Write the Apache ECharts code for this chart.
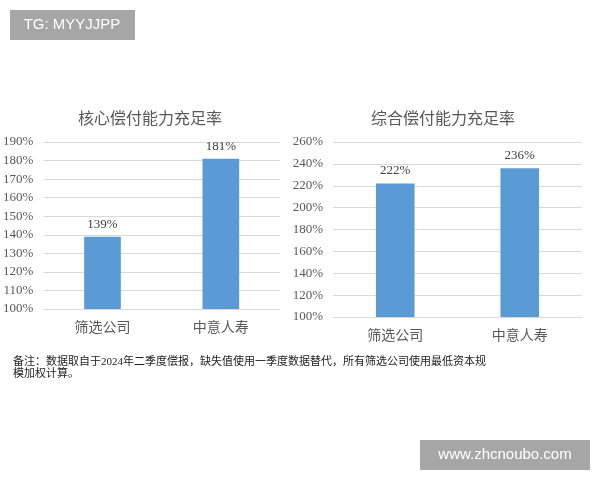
<!DOCTYPE html>
<html><head><meta charset="utf-8">
<script src="https://cdn.jsdelivr.net/npm/echarts@6/dist/echarts.min.js"></script>
<style>html,body{margin:0;padding:0;background:#fff}#c{width:600px;height:480px}</style>
</head><body><div id="c"></div>
<script>
var categories = ['筛选公司', '中意人寿'];
var coreValues = [139, 181];
var totalValues = [222, 236];
var coreTitle = '核心偿付能力充足率';
var totalTitle = '综合偿付能力充足率';
var noteText = '备注：数据取自于2024年二季度偿报，缺失值使用一季度数据替代，所有筛选公司使用最低资本规\n模加权计算。';
var tagText = 'TG: MYYJJPP';
var siteText = 'www.zhcnoubo.com';

var serif = '"Liberation Serif","Noto Sans CJK SC",serif';
var cjk = '"Liberation Serif","Noto Sans CJK SC",sans-serif';
var chart = echarts.init(document.getElementById('c'), null, {renderer: 'canvas'});

function yAxis(gi, min, max, step) {
  return {
    type: 'value', gridIndex: gi, min: min, max: max, interval: step,
    axisLine: {show: false}, axisTick: {show: false},
    splitLine: {lineStyle: {color: '#d9d9d9', width: 1}},
    axisLabel: {color: '#595959', fontFamily: serif, fontSize: 13, margin: 10,
      formatter: function (v) { return v + '%'; }}
  };
}
function xAxis(gi) {
  return {
    type: 'category', gridIndex: gi, data: categories,
    axisLine: {lineStyle: {color: '#d9d9d9'}}, axisTick: {show: false},
    axisLabel: {color: '#595959', fontFamily: cjk, fontSize: 14, margin: 12}
  };
}
function bars(idx, vals) {
  return {
    type: 'bar', xAxisIndex: idx, yAxisIndex: idx, data: vals, barWidth: '31%',
    itemStyle: {color: '#5b9bd5'},
    label: {show: true, position: 'top', distance: 6, color: '#404040', fontFamily: serif, fontSize: 13,
      formatter: function (p) { return p.value + '%'; }}
  };
}

chart.setOption({
  animation: false,
  backgroundColor: '#ffffff',
  title: [
    {text: coreTitle, left: 145, top: 107, textAlign: 'center',
     textStyle: {color: '#595959', fontSize: 16, fontWeight: 'normal', fontFamily: cjk}},
    {text: totalTitle, left: 438, top: 107, textAlign: 'center',
     textStyle: {color: '#595959', fontSize: 16, fontWeight: 'normal', fontFamily: cjk}}
  ],
  grid: [
    {left: 43, right: 320, top: 142, bottom: 171},
    {left: 333, right: 18, top: 142, bottom: 163}
  ],
  xAxis: [xAxis(0), xAxis(1)],
  yAxis: [yAxis(0, 100, 190, 10), yAxis(1, 100, 260, 20)],
  series: [bars(0, coreValues), bars(1, totalValues)],
  graphic: [
    {type: 'rect', shape: {x: 10, y: 10, width: 125, height: 30}, style: {fill: '#a6a6a6'}},
    {type: 'text', x: 72, y: 25, style: {text: tagText, fill: '#ffffff', font: '15px "Liberation Sans",Arial,sans-serif', textAlign: 'center', textVerticalAlign: 'middle'}},
    {type: 'rect', shape: {x: 420, y: 440, width: 170, height: 30}, style: {fill: '#a6a6a6'}},
    {type: 'text', x: 505, y: 455, style: {text: siteText, fill: '#ffffff', font: '15px "Liberation Sans",Arial,sans-serif', textAlign: 'center', textVerticalAlign: 'middle'}},
    {type: 'text', x: 13, y: 356, style: {text: noteText, fill: '#222222', font: '11px "Liberation Serif","Noto Sans CJK SC",serif', lineHeight: 12}}
  ]
});
</script></body></html>
